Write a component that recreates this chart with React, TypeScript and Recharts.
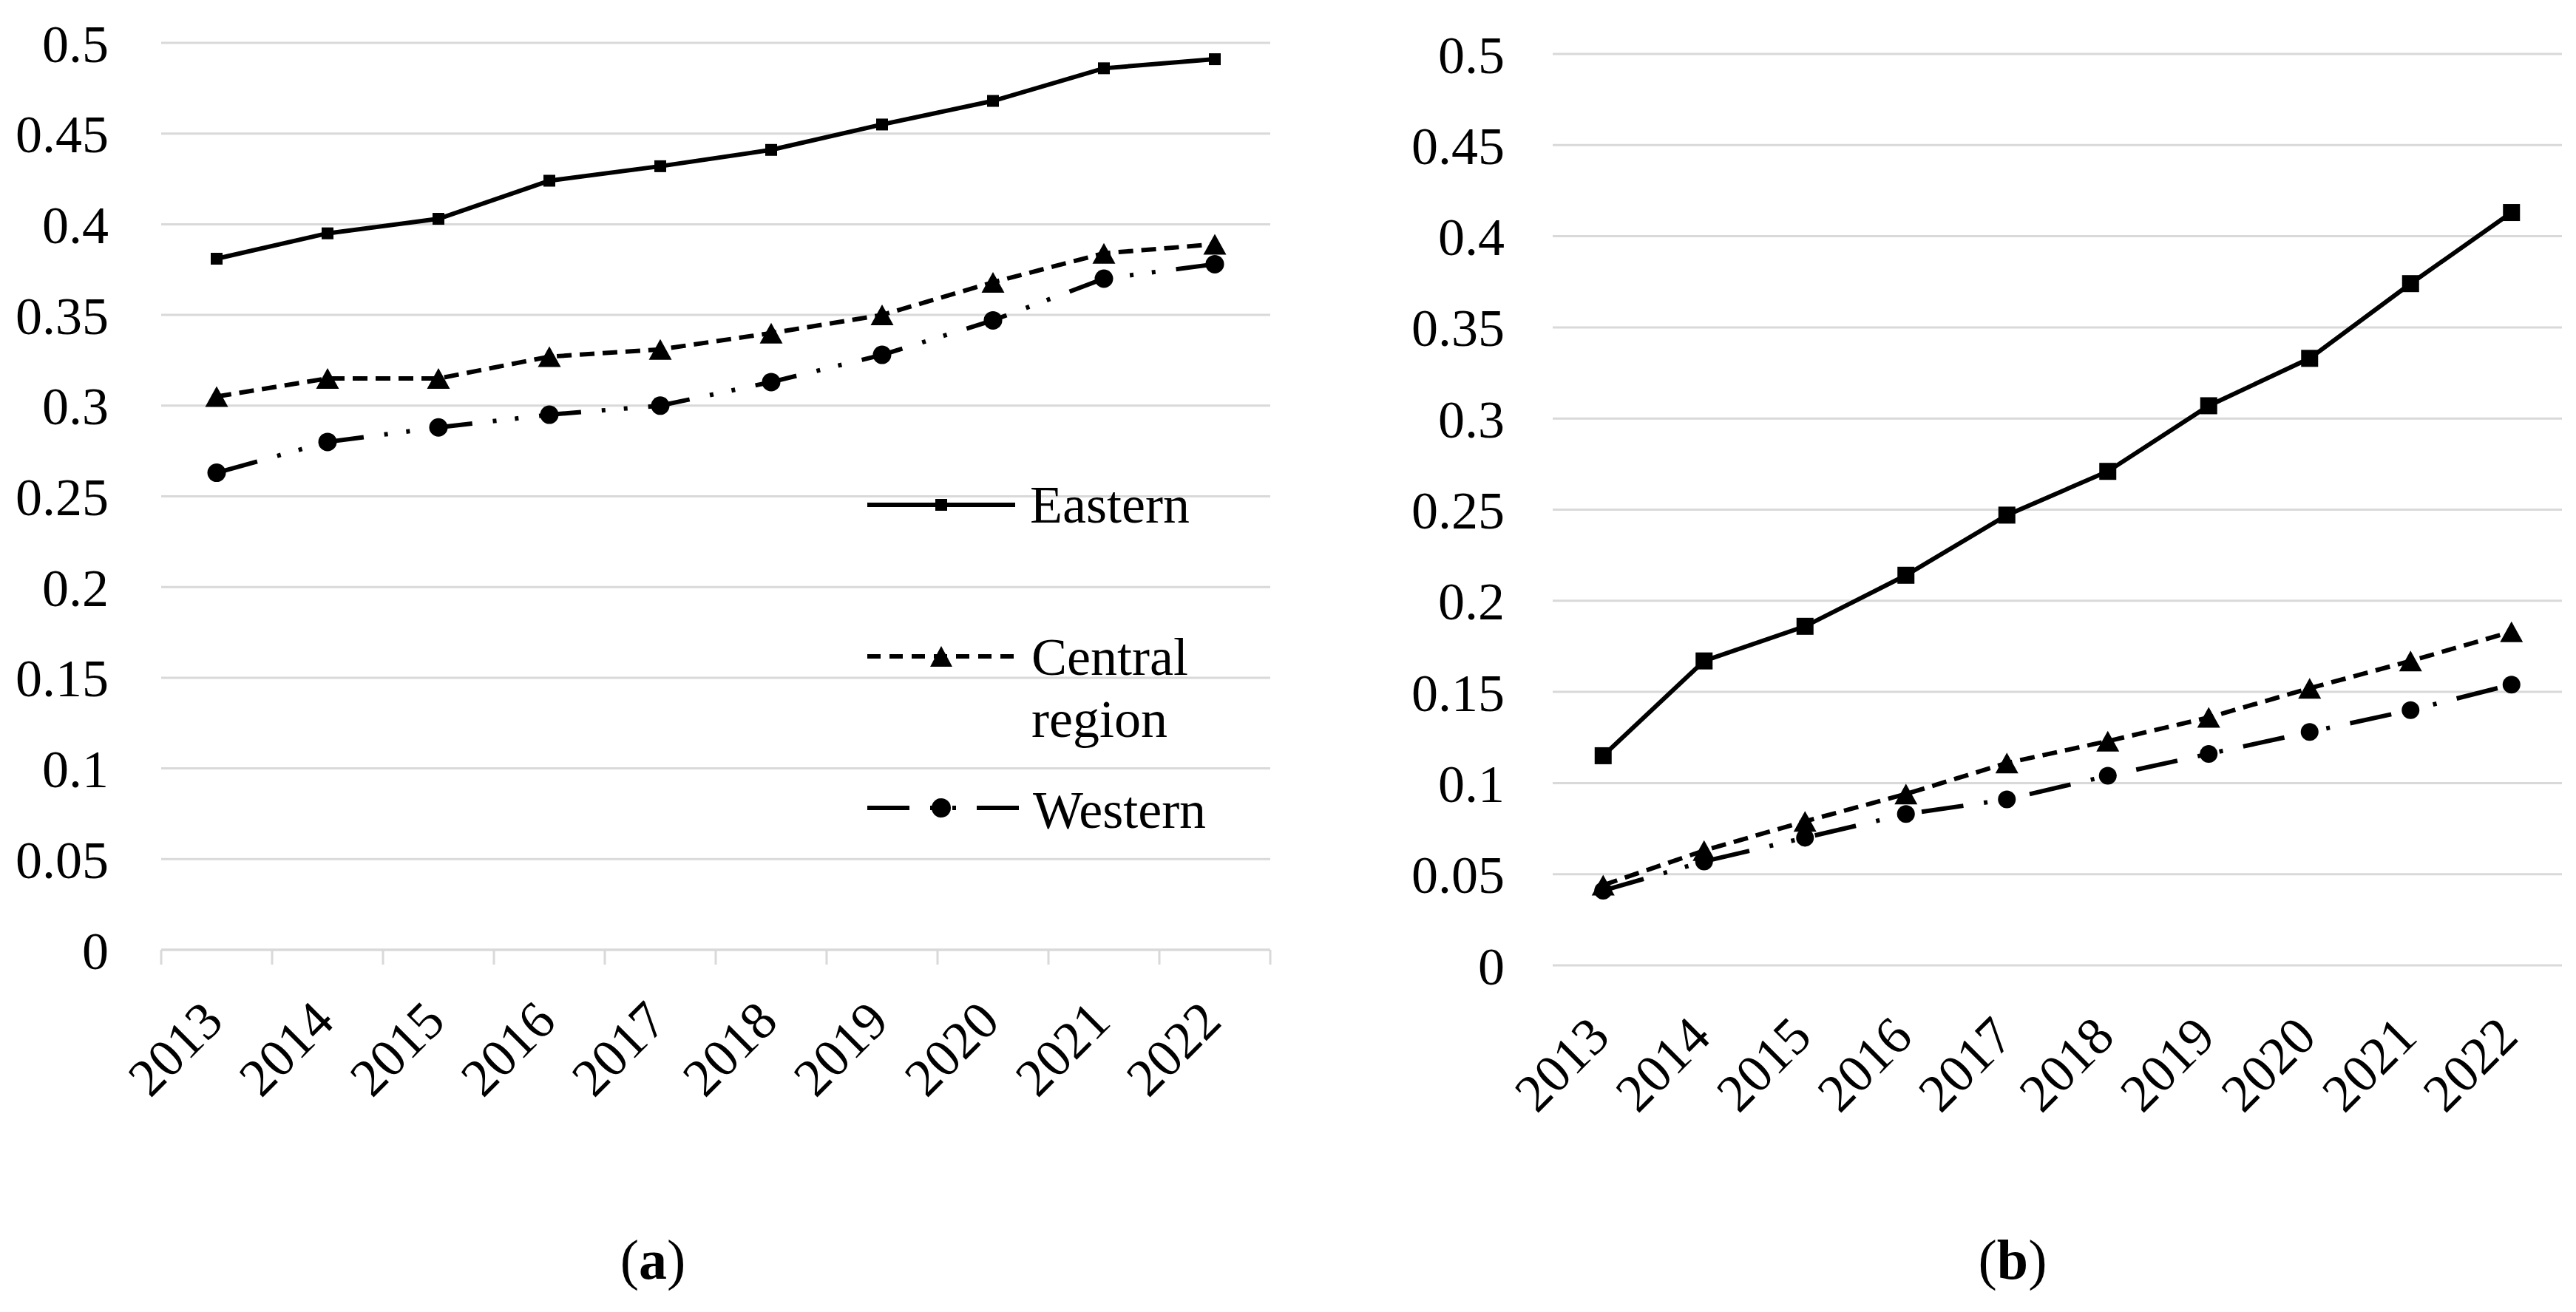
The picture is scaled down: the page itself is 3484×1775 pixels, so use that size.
import React from 'react';
import { LineChart, Line, XAxis, YAxis, CartesianGrid, Legend } from 'recharts';

// ---------- data ----------
const YEARS = ['2013', '2014', '2015', '2016', '2017', '2018', '2019', '2020', '2021', '2022'];
const Y_TICKS = [0, 0.05, 0.1, 0.15, 0.2, 0.25, 0.3, 0.35, 0.4, 0.45, 0.5];
const SERIES_NAMES = ['Eastern', 'Central region', 'Western'];

// panel (a)
const EASTERN_A = [0.381, 0.395, 0.403, 0.424, 0.432, 0.441, 0.455, 0.468, 0.486, 0.491];
const CENTRAL_A = [0.305, 0.315, 0.315, 0.327, 0.331, 0.340, 0.350, 0.368, 0.384, 0.389];
const WESTERN_A = [0.263, 0.280, 0.288, 0.295, 0.300, 0.313, 0.328, 0.347, 0.370, 0.378];

// panel (b)
const EASTERN_B = [0.115, 0.167, 0.186, 0.214, 0.247, 0.271, 0.307, 0.333, 0.374, 0.413];
const CENTRAL_B = [0.044, 0.063, 0.079, 0.094, 0.111, 0.123, 0.136, 0.152, 0.167, 0.183];
const WESTERN_B = [0.041, 0.057, 0.070, 0.083, 0.091, 0.104, 0.116, 0.128, 0.140, 0.154];

// ---------- styles ----------
const FONT = '"Liberation Serif", "Times New Roman", serif';
const INK = '#000000';
const GRID = '#d9d9d9';
const FS = 72;
const LINE_W = 6;
const CENTRAL_DASH = '20 11';
const WESTERN_DASH = '57 28 5 25 5 28';

const buildRows = (e: number[], c: number[], w: number[]) =>
  YEARS.map((year, i) => ({ idx: i, year, eastern: e[i], central: c[i], western: w[i] }));

const ROWS_A = buildRows(EASTERN_A, CENTRAL_A, WESTERN_A);
const ROWS_B = buildRows(EASTERN_B, CENTRAL_B, WESTERN_B);

// category centres plus category boundaries
const X_TICKS: number[] = YEARS.flatMap((_, i) => [i - 0.5, i]).concat([YEARS.length - 0.5]);

const fmtY = (v: number) => String(Number(v.toFixed(2)));

// ---------- markers ----------
const squareDot = (size: number) => (p: any) => {
  if (p.cx == null || p.cy == null) return <g key={`sq-${p.index}`} />;
  return (
    <rect key={`sq-${p.index}`} x={p.cx - size / 2} y={p.cy - size / 2} width={size} height={size} fill={INK} />
  );
};
const triangleDot = (w: number, h: number) => (p: any) => {
  if (p.cx == null || p.cy == null) return <g key={`tr-${p.index}`} />;
  return (
    <polygon
      key={`tr-${p.index}`}
      points={`${p.cx},${p.cy - h / 2} ${p.cx + w / 2},${p.cy + h / 2} ${p.cx - w / 2},${p.cy + h / 2}`}
      fill={INK}
    />
  );
};
const circleDot = (d: number) => (p: any) => {
  if (p.cx == null || p.cy == null) return <g key={`ci-${p.index}`} />;
  return <circle key={`ci-${p.index}`} cx={p.cx} cy={p.cy} r={d / 2} fill={INK} />;
};

// ---------- x tick ----------
const makeXTick = (marks: boolean) => (props: any) => {
  const { x, y, payload } = props;
  const v = Number(payload.value);
  const isBoundary = Math.abs(v - Math.round(v)) > 0.01;
  if (isBoundary) {
    return marks ? (
      <line x1={x} y1={y} x2={x} y2={y + 20} stroke={GRID} strokeWidth={3} />
    ) : (
      <g />
    );
  }
  const label = YEARS[Math.round(v)];
  const tx = x + 12;
  const ty = y + 100;
  return (
    <text
      x={tx}
      y={ty}
      transform={`rotate(-45 ${tx} ${ty})`}
      textAnchor="end"
      fontFamily={FONT}
      fontSize={FS}
      fill={INK}
    >
      {label}
    </text>
  );
};

// ---------- legend ----------
const LegendBox = () => (
  <svg width={640} height={540} style={{ display: 'block', overflow: 'visible' }}>
    {/* Eastern */}
    <line x1={0} y1={63} x2={200} y2={63} stroke={INK} strokeWidth={LINE_W} />
    <rect x={92} y={55} width={16} height={16} fill={INK} />
    <text x={220} y={87} fontFamily={FONT} fontSize={FS} fill={INK}>
      {SERIES_NAMES[0]}
    </text>
    {/* Central region */}
    <line x1={0} y1={268} x2={200} y2={268} stroke={INK} strokeWidth={LINE_W} strokeDasharray="18 12" />
    <polygon points={`100,254 115,282 85,282`} fill={INK} />
    <text x={222} y={293} fontFamily={FONT} fontSize={FS} fill={INK}>
      {SERIES_NAMES[1].split(' ')[0]}
    </text>
    <text x={222} y={377} fontFamily={FONT} fontSize={FS} fill={INK}>
      {SERIES_NAMES[1].split(' ')[1]}
    </text>
    {/* Western */}
    <line x1={0} y1={473} x2={205} y2={473} stroke={INK} strokeWidth={LINE_W} strokeDasharray={WESTERN_DASH} />
    <circle cx={100} cy={473} r={13} fill={INK} />
    <text x={224} y={500} fontFamily={FONT} fontSize={FS} fill={INK}>
      {SERIES_NAMES[2]}
    </text>
  </svg>
);

const yTickStyle = { fontSize: FS, fontFamily: FONT, fill: INK };

const Caption = ({ letter, left }: { letter: string; left: number }) => (
  <div
    style={{
      position: 'absolute',
      left,
      top: 1666,
      width: 200,
      textAlign: 'center',
      fontFamily: FONT,
      fontSize: 76,
      lineHeight: '76px',
      color: INK,
    }}
  >
    (<b>{letter}</b>)
  </div>
);

export default function App() {
  return (
    <div
      style={{
        position: 'absolute',
        left: 0,
        top: 0,
        width: 3484,
        height: 1775,
        background: '#ffffff',
        overflow: 'hidden',
      }}
    >
      {/* panel (a) */}
      <div style={{ position: 'absolute', left: 0, top: 0 }}>
        <LineChart width={1740} height={1775} data={ROWS_A} margin={{ top: 58, right: 22, bottom: 0, left: 0 }}>
          <CartesianGrid horizontal vertical={false} stroke={GRID} strokeWidth={3} />
          <XAxis
            dataKey="idx"
            type="number"
            domain={[-0.5, YEARS.length - 0.5]}
            ticks={X_TICKS}
            interval={0}
            height={490}
            tickSize={0}
            tickMargin={0}
            tickLine={false}
            axisLine={{ stroke: GRID, strokeWidth: 3 }}
            tick={makeXTick(true)}
          />
          <YAxis
            type="number"
            domain={[0, 0.5]}
            ticks={Y_TICKS}
            interval={0}
            width={218}
            tickSize={0}
            tickMargin={71}
            axisLine={false}
            tickLine={false}
            tick={yTickStyle}
            tickFormatter={fmtY}
          />
          <Legend
            layout="vertical"
            align="center"
            verticalAlign="middle"
            content={() => <LegendBox />}
            wrapperStyle={{ position: 'absolute', left: 1173, top: 620, width: 640, height: 540 }}
          />
          <Line
            name={SERIES_NAMES[0]}
            dataKey="eastern"
            stroke={INK}
            strokeWidth={LINE_W}
            dot={squareDot(16)}
            activeDot={false}
            isAnimationActive={false}
          />
          <Line
            name={SERIES_NAMES[1]}
            dataKey="central"
            stroke={INK}
            strokeWidth={LINE_W}
            strokeDasharray={CENTRAL_DASH}
            dot={triangleDot(31, 28)}
            activeDot={false}
            isAnimationActive={false}
          />
          <Line
            name={SERIES_NAMES[2]}
            dataKey="western"
            stroke={INK}
            strokeWidth={LINE_W}
            strokeDasharray={WESTERN_DASH}
            dot={circleDot(25)}
            activeDot={false}
            isAnimationActive={false}
          />
        </LineChart>
      </div>

      {/* panel (b) */}
      <div style={{ position: 'absolute', left: 1740, top: 0 }}>
        <LineChart width={1744} height={1775} data={ROWS_B} margin={{ top: 73, right: 19, bottom: 0, left: 0 }}>
          <CartesianGrid horizontal vertical={false} stroke={GRID} strokeWidth={3} />
          <XAxis
            dataKey="idx"
            type="number"
            domain={[-0.5, YEARS.length - 0.5]}
            ticks={X_TICKS}
            interval={0}
            height={469}
            tickSize={0}
            tickMargin={0}
            tickLine={false}
            axisLine={false}
            tick={makeXTick(false)}
          />
          <YAxis
            type="number"
            domain={[0, 0.5]}
            ticks={Y_TICKS}
            interval={0}
            width={360}
            tickSize={0}
            tickMargin={65}
            axisLine={false}
            tickLine={false}
            tick={yTickStyle}
            tickFormatter={fmtY}
          />
          <Line
            name={SERIES_NAMES[0]}
            dataKey="eastern"
            stroke={INK}
            strokeWidth={LINE_W}
            dot={squareDot(23)}
            activeDot={false}
            isAnimationActive={false}
          />
          <Line
            name={SERIES_NAMES[1]}
            dataKey="central"
            stroke={INK}
            strokeWidth={LINE_W}
            strokeDasharray={CENTRAL_DASH}
            dot={triangleDot(31, 28)}
            activeDot={false}
            isAnimationActive={false}
          />
          <Line
            name={SERIES_NAMES[2]}
            dataKey="western"
            stroke={INK}
            strokeWidth={LINE_W}
            strokeDasharray={WESTERN_DASH}
            dot={circleDot(24)}
            activeDot={false}
            isAnimationActive={false}
          />
        </LineChart>
      </div>

      <Caption letter="a" left={783} />
      <Caption letter="b" left={2622} />
    </div>
  );
}
